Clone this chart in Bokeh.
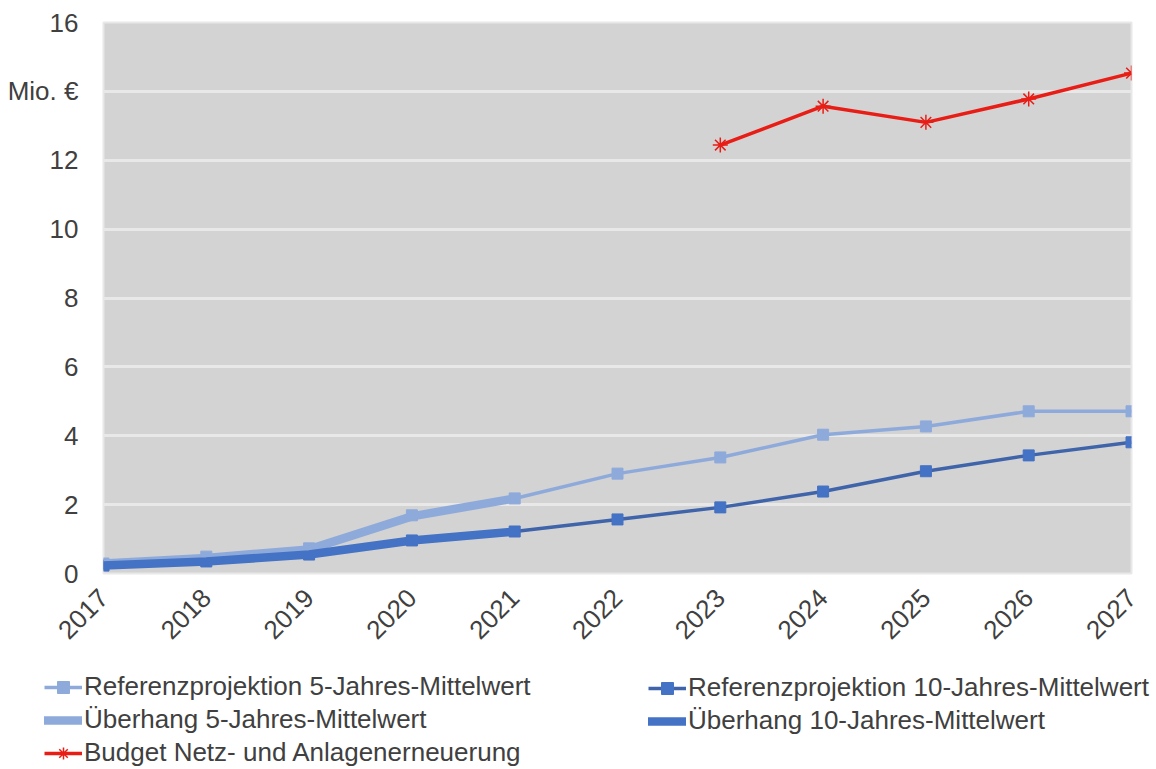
import math
from bokeh.plotting import figure
from bokeh.layouts import column
from bokeh.models import Range1d, FixedTicker, Legend, LegendItem
from bokeh.embed import file_html
from bokeh.resources import INLINE

years = [2017, 2018, 2019, 2020, 2021, 2022, 2023, 2024, 2025, 2026, 2027]
ref5 = [0.29, 0.49, 0.73, 1.69, 2.18, 2.90, 3.37, 4.03, 4.27, 4.71, 4.71]
ref10 = [0.23, 0.35, 0.55, 0.96, 1.22, 1.57, 1.92, 2.38, 2.97, 3.43, 3.81]
ueb_years = [2017, 2018, 2019, 2020, 2021]
ueb5 = [0.29, 0.45, 0.70, 1.66, 2.18]
ueb10 = [0.23, 0.35, 0.55, 0.96, 1.22]
budget_years = [2023, 2024, 2025, 2026, 2027]
budget = [12.44, 13.57, 13.10, 13.78, 14.53]
y_ticks = [0, 2, 4, 6, 8, 10, 12, 14, 16]
y_tick_labels = {14: "Mio. €"}

names = ["Referenzprojektion 5-Jahres-Mittelwert",
         "Referenzprojektion 10-Jahres-Mittelwert",
         "Überhang 5-Jahres-Mittelwert",
         "Überhang 10-Jahres-Mittelwert",
         "Budget Netz- und Anlagenerneuerung"]

FONT = "Liberation Sans"
TXT = "#404040"
c5 = "#8EAADB"
c10 = "#4472C4"
c10line = "#3F64AA"
cred = "#E81E16"

p = figure(width=1156, height=664, output_backend="svg", toolbar_location=None,
           x_range=Range1d(2017, 2027), y_range=Range1d(0, 16),
           min_border_left=103, min_border_right=25, min_border_top=22,
           min_border_bottom=91)
p.frame_align = False
p.background_fill_color = "#D3D3D3"
p.border_fill_color = "white"
p.outline_line_color = "#E8E8E8"
p.outline_line_width = 2

p.xgrid.grid_line_color = None
p.ygrid.grid_line_color = "#E8E8E8"
p.ygrid.grid_line_width = 3

p.yaxis.ticker = FixedTicker(ticks=y_ticks)
p.yaxis.major_label_overrides = y_tick_labels
p.yaxis.axis_line_color = None
p.yaxis.major_tick_line_color = None
p.yaxis.minor_tick_line_color = None
p.yaxis.major_label_text_font = FONT
p.yaxis.major_label_text_font_size = "26px"
p.yaxis.major_label_text_color = TXT
p.yaxis.major_label_standoff = 19

p.xaxis.ticker = FixedTicker(ticks=years)
p.xaxis.axis_line_color = None
p.xaxis.major_tick_line_color = None
p.xaxis.minor_tick_line_color = None
p.xaxis.major_label_text_font = FONT
p.xaxis.major_label_text_font_size = "26px"
p.xaxis.major_label_text_color = TXT
p.xaxis.major_label_orientation = math.pi / 4
p.xaxis.major_label_standoff = 14


def draw(fig):
    r5l = fig.line(years, ref5, line_color=c5, line_width=3.5)
    r5m = fig.scatter(years, ref5, marker="square", size=11, fill_color=c5, line_color=c5)
    r10l = fig.line(years, ref10, line_color=c10line, line_width=3.5)
    r10m = fig.scatter(years, ref10, marker="square", size=11, fill_color=c10, line_color=c10)
    u5 = fig.line(ueb_years, ueb5, line_color=c5, line_width=8.5, line_cap="round", line_join="round")
    u10 = fig.line(ueb_years, ueb10, line_color=c10, line_width=8.5, line_cap="round", line_join="round")
    bl = fig.line(budget_years, budget, line_color=cred, line_width=3.5)
    bm = fig.scatter(budget_years, budget, marker="asterisk", size=15, line_color=cred, line_width=1.5)
    return r5l, r5m, r10l, r10m, u5, u10, bl, bm


draw(p)

# legend strip below the chart (legend glyphs only; data lies outside its view)
q = figure(width=1156, height=105, output_backend="svg", toolbar_location=None,
           x_range=Range1d(0, 1), y_range=Range1d(0, 1),
           x_axis_type=None, y_axis_type=None,
           min_border_left=0, min_border_right=0, min_border_top=0, min_border_bottom=0)
q.frame_align = False
q.outline_line_color = None
q.background_fill_color = "white"
q.grid.grid_line_color = None
r5l, r5m, r10l, r10m, u5, u10, bl, bm = draw(q)


def make_legend(items, loc):
    lg = Legend(items=items, location=loc, orientation="vertical",
                background_fill_alpha=0, border_line_color=None,
                padding=0, margin=0, spacing=2, glyph_width=38, glyph_height=30,
                label_standoff=2, label_text_font=FONT, label_text_font_size="26px",
                label_text_color=TXT, label_height=30)
    q.add_layout(lg, "center")
    return lg


make_legend([LegendItem(label=names[0], renderers=[r5l, r5m]),
             LegendItem(label=names[2], renderers=[u5]),
             LegendItem(label=names[4], renderers=[bl, bm])], (44, 1))
make_legend([LegendItem(label=names[1], renderers=[r10l, r10m]),
             LegendItem(label=names[3], renderers=[u10])], (648, 33))

open("out.html", "w").write(file_html(column(p, q, spacing=0), INLINE))
